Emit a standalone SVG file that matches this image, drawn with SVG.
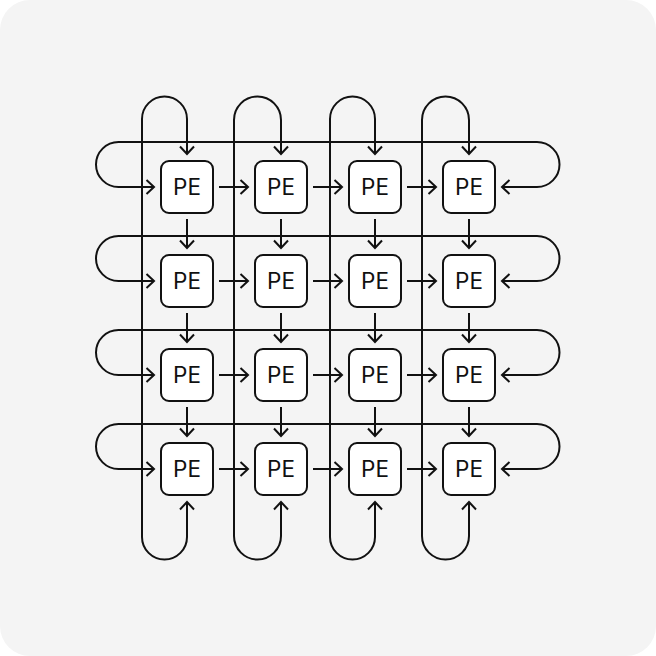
<svg xmlns="http://www.w3.org/2000/svg" width="656" height="656" viewBox="0 0 656 656">
<defs>
<style>
.c{fill:none;stroke:#111;stroke-width:2;marker-end:url(#a)}
.w{fill:none;stroke:#111;stroke-width:2;marker-start:url(#a);marker-end:url(#a)}
.b{fill:#fff;stroke:#111;stroke-width:2}
.t{font-family:Inter,"Liberation Sans",sans-serif;font-size:22.5px;fill:#111;text-anchor:middle}
</style>
<marker id="a" viewBox="-10 -10 20 20" markerWidth="20" markerHeight="20" refX="0" refY="0" orient="auto-start-reverse" markerUnits="userSpaceOnUse">
<path d="M-7.5,-7 L0,0 L-7.5,7" fill="none" stroke="#111" stroke-width="2" stroke-linejoin="miter"/>
</marker>
</defs>
<rect x="0" y="0" width="656" height="656" rx="30" fill="#f4f4f4"/>
<g id="connectors">
<path class="w" d="M187,154 V119 A22.5,22.5 0 0 0 142,119 V537 A22.5,22.5 0 0 0 187,537 V502"/>
<path class="w" d="M281,154 V120 A23.5,23.5 0 0 0 234,120 V536 A23.5,23.5 0 0 0 281,536 V502"/>
<path class="w" d="M375,154 V119 A22.5,22.5 0 0 0 330,119 V537 A22.5,22.5 0 0 0 375,537 V502"/>
<path class="w" d="M469,154 V120 A23.5,23.5 0 0 0 422,120 V536 A23.5,23.5 0 0 0 469,536 V502"/>
<path class="w" d="M154,187 H118.5 A22.5,22.5 0 0 1 118.5,142 H537 A22.5,22.5 0 0 1 537,187 H502"/>
<path class="w" d="M154,281 H118.5 A22.5,22.5 0 0 1 118.5,236 H537 A22.5,22.5 0 0 1 537,281 H502"/>
<path class="w" d="M154,375 H118.5 A22.5,22.5 0 0 1 118.5,330 H537 A22.5,22.5 0 0 1 537,375 H502"/>
<path class="w" d="M154,469 H118.5 A22.5,22.5 0 0 1 118.5,424 H537 A22.5,22.5 0 0 1 537,469 H502"/>
<path class="c" d="M219,187 H248"/><path class="c" d="M313,187 H342"/><path class="c" d="M407,187 H436"/>
<path class="c" d="M219,281 H248"/><path class="c" d="M313,281 H342"/><path class="c" d="M407,281 H436"/>
<path class="c" d="M219,375 H248"/><path class="c" d="M313,375 H342"/><path class="c" d="M407,375 H436"/>
<path class="c" d="M219,469 H248"/><path class="c" d="M313,469 H342"/><path class="c" d="M407,469 H436"/>
<path class="c" d="M187,219 V248"/><path class="c" d="M281,219 V248"/><path class="c" d="M375,219 V248"/><path class="c" d="M469,219 V248"/>
<path class="c" d="M187,313 V342"/><path class="c" d="M281,313 V342"/><path class="c" d="M375,313 V342"/><path class="c" d="M469,313 V342"/>
<path class="c" d="M187,407 V436"/><path class="c" d="M281,407 V436"/><path class="c" d="M375,407 V436"/><path class="c" d="M469,407 V436"/>
</g>
<g id="pe-1-1"><rect class="b" x="161" y="161" width="52" height="52" rx="8"/><text class="t" x="187" y="195">PE</text></g>
<g id="pe-1-2"><rect class="b" x="255" y="161" width="52" height="52" rx="8"/><text class="t" x="281" y="195">PE</text></g>
<g id="pe-1-3"><rect class="b" x="349" y="161" width="52" height="52" rx="8"/><text class="t" x="375" y="195">PE</text></g>
<g id="pe-1-4"><rect class="b" x="443" y="161" width="52" height="52" rx="8"/><text class="t" x="469" y="195">PE</text></g>
<g id="pe-2-1"><rect class="b" x="161" y="255" width="52" height="52" rx="8"/><text class="t" x="187" y="289">PE</text></g>
<g id="pe-2-2"><rect class="b" x="255" y="255" width="52" height="52" rx="8"/><text class="t" x="281" y="289">PE</text></g>
<g id="pe-2-3"><rect class="b" x="349" y="255" width="52" height="52" rx="8"/><text class="t" x="375" y="289">PE</text></g>
<g id="pe-2-4"><rect class="b" x="443" y="255" width="52" height="52" rx="8"/><text class="t" x="469" y="289">PE</text></g>
<g id="pe-3-1"><rect class="b" x="161" y="349" width="52" height="52" rx="8"/><text class="t" x="187" y="383">PE</text></g>
<g id="pe-3-2"><rect class="b" x="255" y="349" width="52" height="52" rx="8"/><text class="t" x="281" y="383">PE</text></g>
<g id="pe-3-3"><rect class="b" x="349" y="349" width="52" height="52" rx="8"/><text class="t" x="375" y="383">PE</text></g>
<g id="pe-3-4"><rect class="b" x="443" y="349" width="52" height="52" rx="8"/><text class="t" x="469" y="383">PE</text></g>
<g id="pe-4-1"><rect class="b" x="161" y="443" width="52" height="52" rx="8"/><text class="t" x="187" y="477">PE</text></g>
<g id="pe-4-2"><rect class="b" x="255" y="443" width="52" height="52" rx="8"/><text class="t" x="281" y="477">PE</text></g>
<g id="pe-4-3"><rect class="b" x="349" y="443" width="52" height="52" rx="8"/><text class="t" x="375" y="477">PE</text></g>
<g id="pe-4-4"><rect class="b" x="443" y="443" width="52" height="52" rx="8"/><text class="t" x="469" y="477">PE</text></g>
</svg>
